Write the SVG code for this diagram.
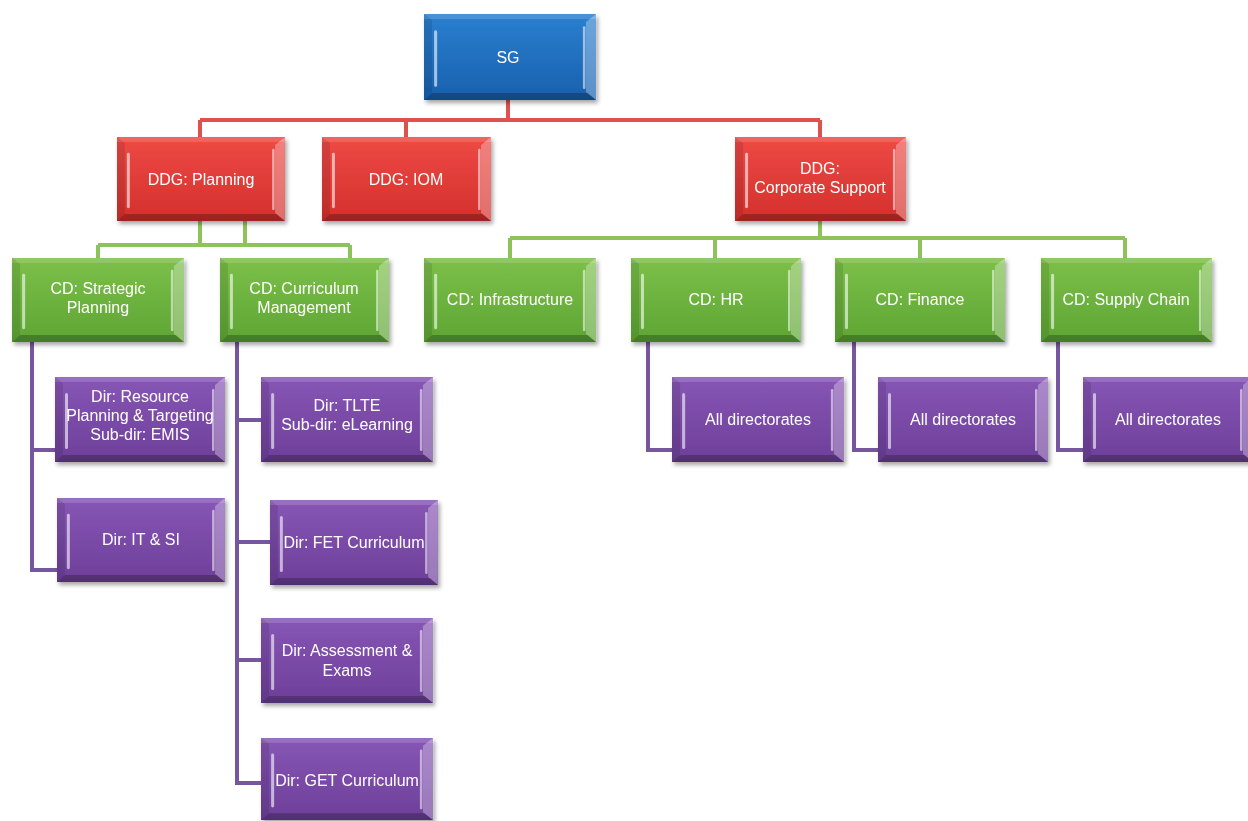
<svg xmlns="http://www.w3.org/2000/svg" xmlns:xlink="http://www.w3.org/1999/xlink" width="1248" height="821" viewBox="0 0 1248 821">
<defs>
<linearGradient id="gBlue" x1="0" y1="0" x2="0" y2="1"><stop offset="0" stop-color="#2b7fd0"/><stop offset="1" stop-color="#1760ad"/></linearGradient>
<linearGradient id="gRed" x1="0" y1="0" x2="0" y2="1"><stop offset="0" stop-color="#ee4a45"/><stop offset="1" stop-color="#d3302c"/></linearGradient>
<linearGradient id="gGreen" x1="0" y1="0" x2="0" y2="1"><stop offset="0" stop-color="#7cc04a"/><stop offset="1" stop-color="#5ea534"/></linearGradient>
<linearGradient id="gPurple" x1="0" y1="0" x2="0" y2="1"><stop offset="0" stop-color="#8756b5"/><stop offset="1" stop-color="#6d3f99"/></linearGradient>
<filter id="sh" x="-10%" y="-10%" width="125%" height="130%"><feDropShadow dx="2" dy="3" stdDeviation="2" flood-color="#000" flood-opacity="0.35"/></filter>
<g id="bevel">
<rect x="0" y="0" width="170" height="5" fill="#fff" opacity="0.15"/>
<polygon points="0,85 170,85 162,78 8,78" fill="#000" opacity="0.25"/>
<polygon points="0,0 8,6 8,78 0,85" fill="#000" opacity="0.1"/>
<rect x="10" y="16" width="3" height="56" rx="1.5" fill="#fff" opacity="0.6"/>
<polygon points="170,0 170,85 160,77 160,8" fill="#fff" opacity="0.3"/>
<rect x="157" y="12" width="2.5" height="62" rx="1.2" fill="#fff" opacity="0.55"/>
</g>
</defs>
<style>
.t{font-family:"Liberation Sans",Arial,sans-serif;font-size:16px;fill:#fff;text-anchor:middle}
.box{filter:url(#sh)}
.red{fill:none;stroke:#e0504c;stroke-width:4}
.grn{fill:none;stroke:#8dc35a;stroke-width:4}
.pur{fill:none;stroke:#76569e;stroke-width:4}
</style>
<rect width="1248" height="821" fill="#fff"/>
<g id="connectors">
<path class="red" d="M508 100V120M200 120H820M200 120V137M406 120V137M820 120V137"/>
<path class="grn" d="M200 221V245M245 221V245M98 245H350M98 245V258M350 245V258"/>
<path class="grn" d="M820 221V238M510 238H1125M510 238V258M715 238V258M920 238V258M1125 238V258"/>
<path class="pur" d="M32 342V570H57M32 450H55"/>
<path class="pur" d="M237 342V783H261M237 420H261M237 542H270M237 660H261"/>
<path class="pur" d="M648 342V450H672M854 342V450H878M1058 342V450H1083"/>
</g>
<g id="sg" class="box"><rect x="424" y="14" width="172" height="86" fill="url(#gBlue)"/><use href="#bevel" transform="translate(424 14) scale(1.012 1.012)"/><text class="t" x="508" y="63">SG</text></g>
<g id="ddg-planning" class="box"><rect x="117" y="137" width="168" height="84" fill="url(#gRed)"/><use href="#bevel" transform="translate(117 137) scale(0.988 0.988)"/><text class="t" x="201" y="185">DDG: Planning</text></g>
<g id="ddg-iom" class="box"><rect x="322" y="137" width="169" height="84" fill="url(#gRed)"/><use href="#bevel" transform="translate(322 137) scale(0.994 0.988)"/><text class="t" x="406" y="185">DDG: IOM</text></g>
<g id="ddg-corporate" class="box"><rect x="735" y="137" width="171" height="84" fill="url(#gRed)"/><use href="#bevel" transform="translate(735 137) scale(1.006 0.988)"/><text class="t" x="820" y="174">DDG:</text><text class="t" x="820" y="193">Corporate Support</text></g>
<g id="cd-strategic" class="box"><rect x="12" y="258" width="172" height="84" fill="url(#gGreen)"/><use href="#bevel" transform="translate(12 258) scale(1.012 0.988)"/><text class="t" x="98" y="294">CD: Strategic</text><text class="t" x="98" y="313">Planning</text></g>
<g id="cd-curriculum" class="box"><rect x="220" y="258" width="169" height="84" fill="url(#gGreen)"/><use href="#bevel" transform="translate(220 258) scale(0.994 0.988)"/><text class="t" x="304" y="294">CD: Curriculum</text><text class="t" x="304" y="313">Management</text></g>
<g id="cd-infrastructure" class="box"><rect x="424" y="258" width="172" height="84" fill="url(#gGreen)"/><use href="#bevel" transform="translate(424 258) scale(1.012 0.988)"/><text class="t" x="510" y="305">CD: Infrastructure</text></g>
<g id="cd-hr" class="box"><rect x="631" y="258" width="170" height="84" fill="url(#gGreen)"/><use href="#bevel" transform="translate(631 258) scale(1 0.988)"/><text class="t" x="716" y="305">CD: HR</text></g>
<g id="cd-finance" class="box"><rect x="835" y="258" width="170" height="84" fill="url(#gGreen)"/><use href="#bevel" transform="translate(835 258) scale(1 0.988)"/><text class="t" x="920" y="305">CD: Finance</text></g>
<g id="cd-supply" class="box"><rect x="1041" y="258" width="171" height="84" fill="url(#gGreen)"/><use href="#bevel" transform="translate(1041 258) scale(1.006 0.988)"/><text class="t" x="1126" y="305">CD: Supply Chain</text></g>
<g id="dir-resource" class="box"><rect x="55" y="377" width="170" height="85" fill="url(#gPurple)"/><use href="#bevel" transform="translate(55 377)"/><text class="t" x="140" y="402">Dir:  Resource</text><text class="t" x="140" y="421">Planning &amp; Targeting</text><text class="t" x="140" y="440">Sub-dir: EMIS</text></g>
<g id="dir-it" class="box"><rect x="57" y="498" width="168" height="84" fill="url(#gPurple)"/><use href="#bevel" transform="translate(57 498) scale(0.988 0.988)"/><text class="t" x="141" y="545">Dir: IT &amp; SI</text></g>
<g id="dir-tlte" class="box"><rect x="261" y="377" width="172" height="85" fill="url(#gPurple)"/><use href="#bevel" transform="translate(261 377) scale(1.012 1)"/><text class="t" x="347" y="411">Dir: TLTE</text><text class="t" x="347" y="430">Sub-dir: eLearning</text></g>
<g id="dir-fet" class="box"><rect x="270" y="500" width="168" height="85" fill="url(#gPurple)"/><use href="#bevel" transform="translate(270 500) scale(0.988 1)"/><text class="t" x="354" y="548">Dir: FET Curriculum</text></g>
<g id="dir-assessment" class="box"><rect x="261" y="618" width="172" height="85" fill="url(#gPurple)"/><use href="#bevel" transform="translate(261 618) scale(1.012 1)"/><text class="t" x="347" y="656">Dir: Assessment &amp;</text><text class="t" x="347" y="676">Exams</text></g>
<g id="dir-get" class="box"><rect x="261" y="738" width="172" height="82" fill="url(#gPurple)"/><use href="#bevel" transform="translate(261 738) scale(1.012 0.965)"/><text class="t" x="347" y="786">Dir: GET Curriculum</text></g>
<g id="hr-dirs" class="box"><rect x="672" y="377" width="172" height="85" fill="url(#gPurple)"/><use href="#bevel" transform="translate(672 377) scale(1.012 1)"/><text class="t" x="758" y="425">All directorates</text></g>
<g id="finance-dirs" class="box"><rect x="878" y="377" width="170" height="85" fill="url(#gPurple)"/><use href="#bevel" transform="translate(878 377)"/><text class="t" x="963" y="425">All directorates</text></g>
<g id="supply-dirs" class="box"><rect x="1083" y="377" width="170" height="85" fill="url(#gPurple)"/><use href="#bevel" transform="translate(1083 377)"/><text class="t" x="1168" y="425">All directorates</text></g>
</svg>
